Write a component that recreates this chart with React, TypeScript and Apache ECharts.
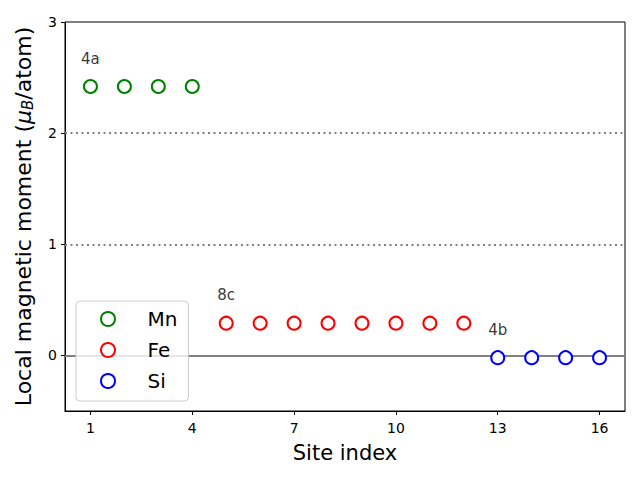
import React, { useEffect, useRef } from "react";
import * as echarts from "echarts";

const mnSites = [1, 2, 3, 4];
const mnValues = [2.42, 2.42, 2.42, 2.42];
const feSites = [5, 6, 7, 8, 9, 10, 11, 12];
const feValues = [0.29, 0.29, 0.29, 0.29, 0.29, 0.29, 0.29, 0.29];
const siSites = [13, 14, 15, 16];
const siValues = [-0.02, -0.02, -0.02, -0.02];
const xTicks = [1, 4, 7, 10, 13, 16];
const yTicks = [0, 1, 2, 3];
const wyckoffLabels = ["4a", "8c", "4b"];
const wyckoffX = [1, 5, 13];
const wyckoffY = [2.67, 0.54, 0.23];

const FONT = "DejaVu Sans";

export default function App() {
  const ref = useRef<HTMLDivElement>(null);
  useEffect(() => {
    if (!ref.current) return;
    const chart = echarts.init(ref.current, null, { renderer: "svg" });
    const mk = (xs: number[], ys: number[]) => xs.map((x, i) => [x, ys[i]]);
    const scatterBase = {
      type: "scatter",
      symbol: "emptyCircle",
      symbolSize: 13,
      z: 5,
    };
    chart.setOption({
      animation: false,
      textStyle: { fontFamily: FONT },
      grid: {
        left: 65,
        right: 15,
        top: 22,
        bottom: 69,
        show: true,
        borderColor: "#000",
        borderWidth: 1,
        backgroundColor: "transparent",
      },
      legend: {
        data: ["Mn", "Fe", "Si"],
        orient: "vertical",
        left: 76,
        top: 301,
        itemWidth: 43,
        itemHeight: 14,
        itemGap: 11,
        padding: [8, 11, 10, 24],
        backgroundColor: "rgba(255,255,255,0.8)",
        borderColor: "#cccccc",
        borderWidth: 1,
        borderRadius: 4,
        itemStyle: { opacity: 1 },
        textStyle: {
          fontFamily: FONT,
          fontSize: 20,
          color: "#000",
          lineHeight: 20,
          padding: [0, 0, 0, 13],
        },
      },
      xAxis: {
        type: "value",
        min: 0.25,
        max: 16.75,
        name: "Site index",
        nameLocation: "middle",
        nameGap: 31,
        nameTextStyle: { fontFamily: FONT, fontSize: 21, color: "#000" },
        axisLine: { show: true, onZero: false, lineStyle: { color: "#000", width: 1 } },
        axisTick: { show: true, length: 4, lineStyle: { color: "#000" }, customValues: xTicks },
        axisLabel: { fontFamily: FONT, fontSize: 14, color: "#000", margin: 10, customValues: xTicks },
        splitLine: { show: false },
      },
      yAxis: {
        type: "value",
        min: -0.5,
        max: 3,
        name: "Local magnetic moment ({i|μ}{sub|B}/atom)",
        nameLocation: "middle",
        nameRotate: 90,
        nameGap: 30,
        nameTextStyle: {
          fontFamily: FONT,
          fontSize: 22,
          color: "#000",
          rich: {
            i: { fontFamily: FONT, fontSize: 22, fontStyle: "italic", color: "#000" },
            sub: {
              fontFamily: FONT,
              fontSize: 15,
              fontStyle: "italic",
              color: "#000",
              verticalAlign: "bottom",
              padding: [8, 0, 0, 0],
            },
          },
        },
        axisLine: { show: true, onZero: false, lineStyle: { color: "#000", width: 1 } },
        axisTick: { show: true, length: 4, lineStyle: { color: "#000" }, customValues: yTicks },
        axisLabel: { fontFamily: FONT, fontSize: 14, color: "#000", margin: 8, customValues: yTicks },
        splitLine: { show: false },
      },
      series: [
        {
          ...scatterBase,
          name: "Mn",
          data: mk(mnSites, mnValues),
          itemStyle: { color: "#008000", borderColor: "#008000", borderWidth: 1.3, opacity: 1 },
          markLine: {
            silent: true,
            symbol: "none",
            label: { show: false },
            z: 1,
            data: [
              { yAxis: 0, lineStyle: { color: "#808080", width: 2, type: "solid", opacity: 1 } },
              { yAxis: 1, lineStyle: { color: "#808080", width: 2, type: [2, 3.5], opacity: 1 } },
              { yAxis: 2, lineStyle: { color: "#808080", width: 2, type: [2, 3.5], opacity: 1 } },
            ],
          },
        },
        {
          ...scatterBase,
          name: "Fe",
          data: mk(feSites, feValues),
          itemStyle: { color: "#ff0000", borderColor: "#ff0000", borderWidth: 1.3, opacity: 1 },
        },
        {
          ...scatterBase,
          name: "Si",
          data: mk(siSites, siValues),
          itemStyle: { color: "#0000ff", borderColor: "#0000ff", borderWidth: 1.3, opacity: 1 },
        },
        {
          type: "scatter",
          name: "labels",
          symbolSize: 0,
          silent: true,
          data: wyckoffLabels.map((t, i) => ({ value: [wyckoffX[i], wyckoffY[i]], name: t })),
          label: {
            show: true,
            position: "inside",
            formatter: (p: any) => p.name,
            fontFamily: FONT,
            fontSize: 15,
            color: "#000",
          },
        },
      ],
    });
    return () => chart.dispose();
  }, []);
  return <div ref={ref} style={{ width: 640, height: 480, position: "absolute", left: 0, top: 0 }} />;
}
